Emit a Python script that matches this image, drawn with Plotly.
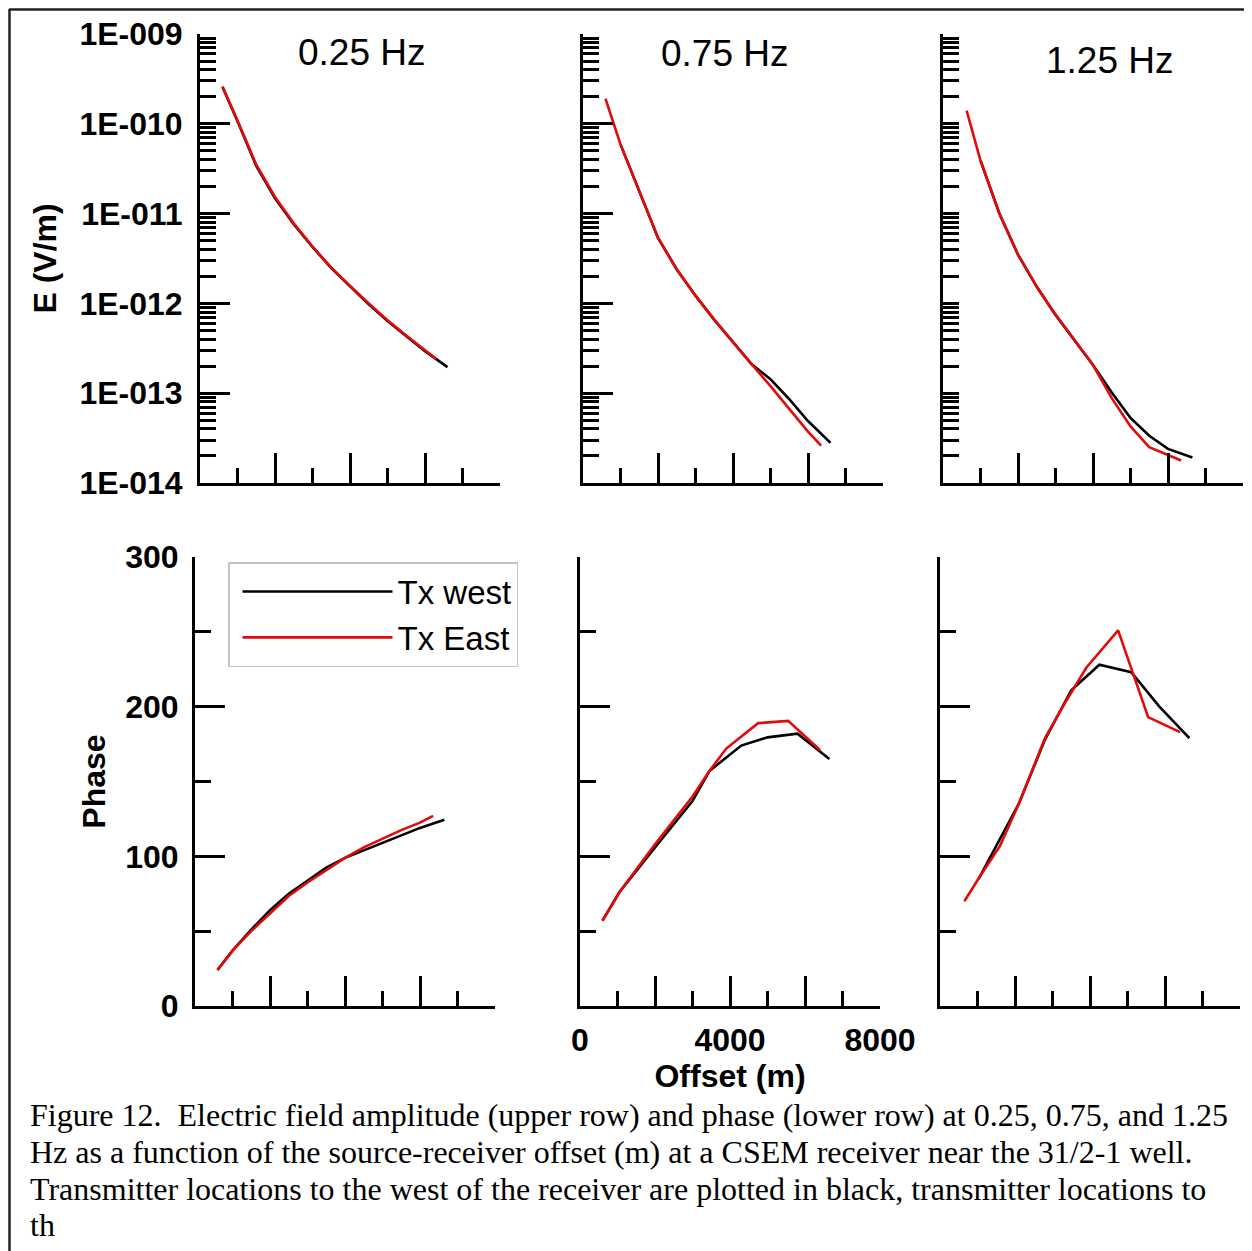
import plotly.graph_objects as go

W, H = 1252, 1251
OFF = 8  # page body margin: the figure starts 8 px from the window corner


def fx(px):
    return (px - OFF) / W


def fy(py):
    return 1 - (py - OFF) / H


# ---------------- data ----------------
freq_labels = ["0.25 Hz", "0.75 Hz", "1.25 Hz"]
series_names = ["Tx west", "Tx East"]

# Amplitude E (V/m) vs offset (m)
off_amp_025_w = [600, 1000, 1500, 2000, 2500, 3000, 3500, 4000, 4500, 5000, 5500, 6000, 6600]
amp_025_w = [2.57e-10, 1.07e-10, 3.4e-11, 1.48e-11, 7.6e-12, 4.25e-12, 2.48e-12, 1.54e-12,
             9.8e-13, 6.35e-13, 4.3e-13, 2.94e-13, 1.95e-13]
off_amp_025_e = [600, 1000, 1500, 2000, 2500, 3000, 3500, 4000, 4500, 5000, 5500, 6000, 6300]
amp_025_e = [2.6e-10, 1.09e-10, 3.5e-11, 1.53e-11, 7.8e-12, 4.3e-12, 2.5e-12, 1.56e-12,
             1.0e-12, 6.5e-13, 4.4e-13, 3.0e-13, 2.4e-13]

off_amp_075_w = [1000, 1500, 2000, 2500, 3000, 3500, 4000, 4500, 5000, 5500, 6000, 6600]
amp_075_w = [5.9e-11, 1.79e-11, 5.36e-12, 2.39e-12, 1.22e-12, 6.56e-13, 3.68e-13, 2.1e-13,
             1.43e-13, 8.6e-14, 4.9e-14, 2.8e-14]
off_amp_075_e = [600, 1000, 1500, 2000, 2500, 3000, 3500, 4000, 4500, 5000, 5500, 6000, 6350]
amp_075_e = [1.9e-10, 5.9e-11, 1.79e-11, 5.4e-12, 2.4e-12, 1.22e-12, 6.6e-13, 3.7e-13,
             2.09e-13, 1.2e-13, 6.65e-14, 3.74e-14, 2.6e-14]

off_amp_125_w = [1000, 1500, 2000, 2500, 3000, 3500, 4000, 4500, 5000, 5500, 6000, 6650]
amp_125_w = [3.9e-11, 1.01e-11, 3.48e-12, 1.53e-12, 7.45e-13, 3.91e-13, 2.06e-13, 1.02e-13,
             5.3e-14, 3.36e-14, 2.4e-14, 1.92e-14]
off_amp_125_e = [630, 1000, 1500, 2000, 2500, 3000, 3500, 4000, 4500, 5000, 5500, 6000, 6350]
amp_125_e = [1.4e-10, 3.9e-11, 1.01e-11, 3.5e-12, 1.54e-12, 7.5e-13, 3.93e-13, 2.06e-13,
             8.8e-14, 4.27e-14, 2.51e-14, 2.03e-14, 1.78e-14]

# Phase vs offset (m)
off_ph_025_w = [600, 1000, 1500, 2000, 2500, 3000, 3500, 4000, 4500, 5000, 5500, 6000, 6650]
ph_025_w = [24, 37, 51, 64, 75, 83.5, 92.5, 99, 104, 109.5, 114.5, 119, 124.5]
off_ph_025_e = [600, 1000, 1500, 2000, 2500, 3000, 3500, 4000, 4500, 5000, 5500, 6000, 6350]
ph_025_e = [24, 37, 50, 62, 73.5, 82.5, 91, 99, 106, 112, 117.5, 122.5, 127]

off_ph_075_w = [600, 1050, 2000, 3000, 3450, 4300, 5000, 5800, 6650]
ph_075_w = [57, 76, 106, 137, 157, 174, 179.5, 182, 165]
off_ph_075_e = [600, 1050, 2000, 3000, 3450, 3900, 4750, 5550, 6400]
ph_075_e = [57, 76, 108, 140, 157, 172, 189, 190.5, 171]

off_ph_125_w = [1030, 1550, 2100, 2800, 3500, 4250, 5100, 5850, 6650]
ph_125_w = [85, 109, 135, 178, 211, 228, 223, 200, 179]
off_ph_125_e = [650, 1050, 1600, 2100, 2800, 3300, 3900, 4750, 5550, 6400]
ph_125_e = [70, 86, 107, 135, 179, 201, 226, 251, 193, 183]

amp_ticks = [1e-14, 1e-13, 1e-12, 1e-11, 1e-10, 1e-9]
amp_tick_text = ["1E-014", "1E-013", "1E-012", "1E-011", "1E-010", "1E-009"]
amp_minor = [k * 10.0 ** e for e in range(-14, -9) for k in range(2, 10)]
phase_ticks = [0, 100, 200, 300]
phase_minor = [50, 150, 250]
off_ticks = [0, 2000, 4000, 6000, 8000]
off_tick_text = ["0", "", "4000", "", "8000"]
off_minor = [1000, 3000, 5000, 7000]

caption_lines = [
    "Figure 12.  Electric field amplitude (upper row) and phase (lower row) at 0.25, 0.75, and 1.25",
    "Hz as a function of the source-receiver offset (m) at a CSEM receiver near the 31/2-1 well.",
    "Transmitter locations to the west of the receiver are plotted in black, transmitter locations to",
    "th",
]

# ---------------- styling ----------------
BLACK = "black"
RED = "rgb(226,10,10)"
LW = 2.6
BOLD = dict(family="Liberation Sans, Arial, sans-serif", size=32, color="black", weight="bold")

fig = go.Figure()

amp_sets = [
    (off_amp_025_w, amp_025_w, off_amp_025_e, amp_025_e),
    (off_amp_075_w, amp_075_w, off_amp_075_e, amp_075_e),
    (off_amp_125_w, amp_125_w, off_amp_125_e, amp_125_e),
]
ph_sets = [
    (off_ph_025_w, ph_025_w, off_ph_025_e, ph_025_e),
    (off_ph_075_w, ph_075_w, off_ph_075_e, ph_075_e),
    (off_ph_125_w, ph_125_w, off_ph_125_e, ph_125_e),
]

for i, (xw, yw, xe, ye) in enumerate(amp_sets):
    ax = "" if i == 0 else str(i + 1)
    fig.add_trace(go.Scatter(x=xw, y=yw, mode="lines", line=dict(color=BLACK, width=LW),
                             xaxis="x" + ax, yaxis="y" + ax, showlegend=False, name=series_names[0]))
    fig.add_trace(go.Scatter(x=xe, y=ye, mode="lines", line=dict(color=RED, width=LW),
                             xaxis="x" + ax, yaxis="y" + ax, showlegend=False, name=series_names[1]))

for i, (xw, yw, xe, ye) in enumerate(ph_sets):
    ax = str(i + 4)
    fig.add_trace(go.Scatter(x=xw, y=yw, mode="lines", line=dict(color=BLACK, width=LW),
                             xaxis="x" + ax, yaxis="y" + ax, showlegend=(i == 0), name=series_names[0]))
    fig.add_trace(go.Scatter(x=xe, y=ye, mode="lines", line=dict(color=RED, width=LW),
                             xaxis="x" + ax, yaxis="y" + ax, showlegend=(i == 0), name=series_names[1]))

# panel pixel boxes: (x_left, x_right, y_top, y_bottom)
top_boxes = [(200, 500, 34, 483), (583, 883, 34, 483), (943, 1243, 34, 483)]
bot_boxes = [(195, 495, 557, 1006), (580, 880, 557, 1006), (940, 1240, 557, 1006)]

common_axis = dict(showline=True, linecolor=BLACK, linewidth=3, showgrid=False, zeroline=False,
                   ticks="inside", tickcolor=BLACK, tickwidth=2.5, mirror=False, automargin=False)

layout = dict(
    width=W, height=H, margin=dict(l=0, r=0, t=0, b=0, pad=0),
    paper_bgcolor="white", plot_bgcolor="white",
    showlegend=True,
)

for i, box in enumerate(top_boxes + bot_boxes):
    n = i + 1
    xl, xr, yt, yb = box
    xkey = "xaxis" if n == 1 else "xaxis%d" % n
    ykey = "yaxis" if n == 1 else "yaxis%d" % n
    xa = dict(common_axis, domain=[fx(xl), fx(xr)], range=[0, 8000], tickmode="array",
              tickvals=off_ticks, ticktext=off_tick_text, ticklen=30,
              minor=dict(tickmode="array", tickvals=off_minor, ticks="inside", ticklen=15,
                         tickwidth=2.5, tickcolor=BLACK, showgrid=False),
              anchor="y" if n == 1 else "y%d" % n,
              showticklabels=(n == 5), tickfont=BOLD, ticklabelstandoff=4)
    if n == 5:
        xa["title"] = dict(text="Offset (m)", font=BOLD, standoff=2)
    if n <= 3:
        ya = dict(common_axis, domain=[fy(yb), fy(yt)], type="log", range=[-14, -9],
                  tickmode="array", tickvals=amp_ticks, ticktext=amp_tick_text,
                  ticklen=(16 if n == 3 else 30),
                  minor=dict(tickmode="array", tickvals=amp_minor, ticks="inside", ticklen=16,
                             tickwidth=2.5, tickcolor=BLACK, showgrid=False),
                  showticklabels=(n == 1), tickfont=BOLD, ticklabelstandoff=8)
        if n == 1:
            ya["title"] = dict(text="E (V/m)", font=BOLD, standoff=14)
    else:
        ya = dict(common_axis, domain=[fy(yb), fy(yt)], range=[0, 300],
                  tickmode="array", tickvals=phase_ticks, ticklen=30,
                  minor=dict(tickmode="array", tickvals=phase_minor, ticks="inside", ticklen=16,
                             tickwidth=2.5, tickcolor=BLACK, showgrid=False),
                  showticklabels=(n == 4), tickfont=BOLD, ticklabelstandoff=7)
        if n == 4:
            ya["title"] = dict(text="Phase", font=BOLD, standoff=11)
    ya["anchor"] = "x" if n == 1 else "x%d" % n
    layout[xkey] = xa
    layout[ykey] = ya

layout["legend"] = dict(
    x=fx(228), y=fy(562), xanchor="left", yanchor="top",
    bgcolor="white", bordercolor="#c4c4c4", borderwidth=1.5,
    font=dict(family="Liberation Sans, Arial, sans-serif", size=33, color="black"),
    itemwidth=150, tracegroupgap=0, indentation=8,
    entrywidth=150, entrywidthmode="pixels",
)

annotations = []
hz_pos = [(362, 52), (725, 54), (1110, 61)]
for txt, (px, py) in zip(freq_labels, hz_pos):
    annotations.append(dict(text=txt, x=fx(px), y=fy(py), xref="paper", yref="paper",
                            xanchor="center", yanchor="middle", showarrow=False,
                            font=dict(family="Liberation Sans, Arial, sans-serif", size=37, color="black")))
cap_y = [1115, 1152, 1189, 1225]
for txt, py in zip(caption_lines, cap_y):
    annotations.append(dict(text=txt, x=fx(28), y=fy(py), xref="paper", yref="paper",
                            xanchor="left", yanchor="middle", showarrow=False,
                            font=dict(family="Liberation Serif, Times New Roman, serif", size=32, color="black")))
layout["annotations"] = annotations

layout["shapes"] = [
    dict(type="line", xref="paper", yref="paper", x0=fx(9), x1=1.0, y0=fy(9.5), y1=fy(9.5),
         line=dict(color="#222", width=2.5)),
    dict(type="line", xref="paper", yref="paper", x0=fx(9.5), x1=fx(9.5), y0=fy(9), y1=0.0,
         line=dict(color="#222", width=2.5)),
]

fig.update_layout(**layout)
fig.write_html("out.html")
